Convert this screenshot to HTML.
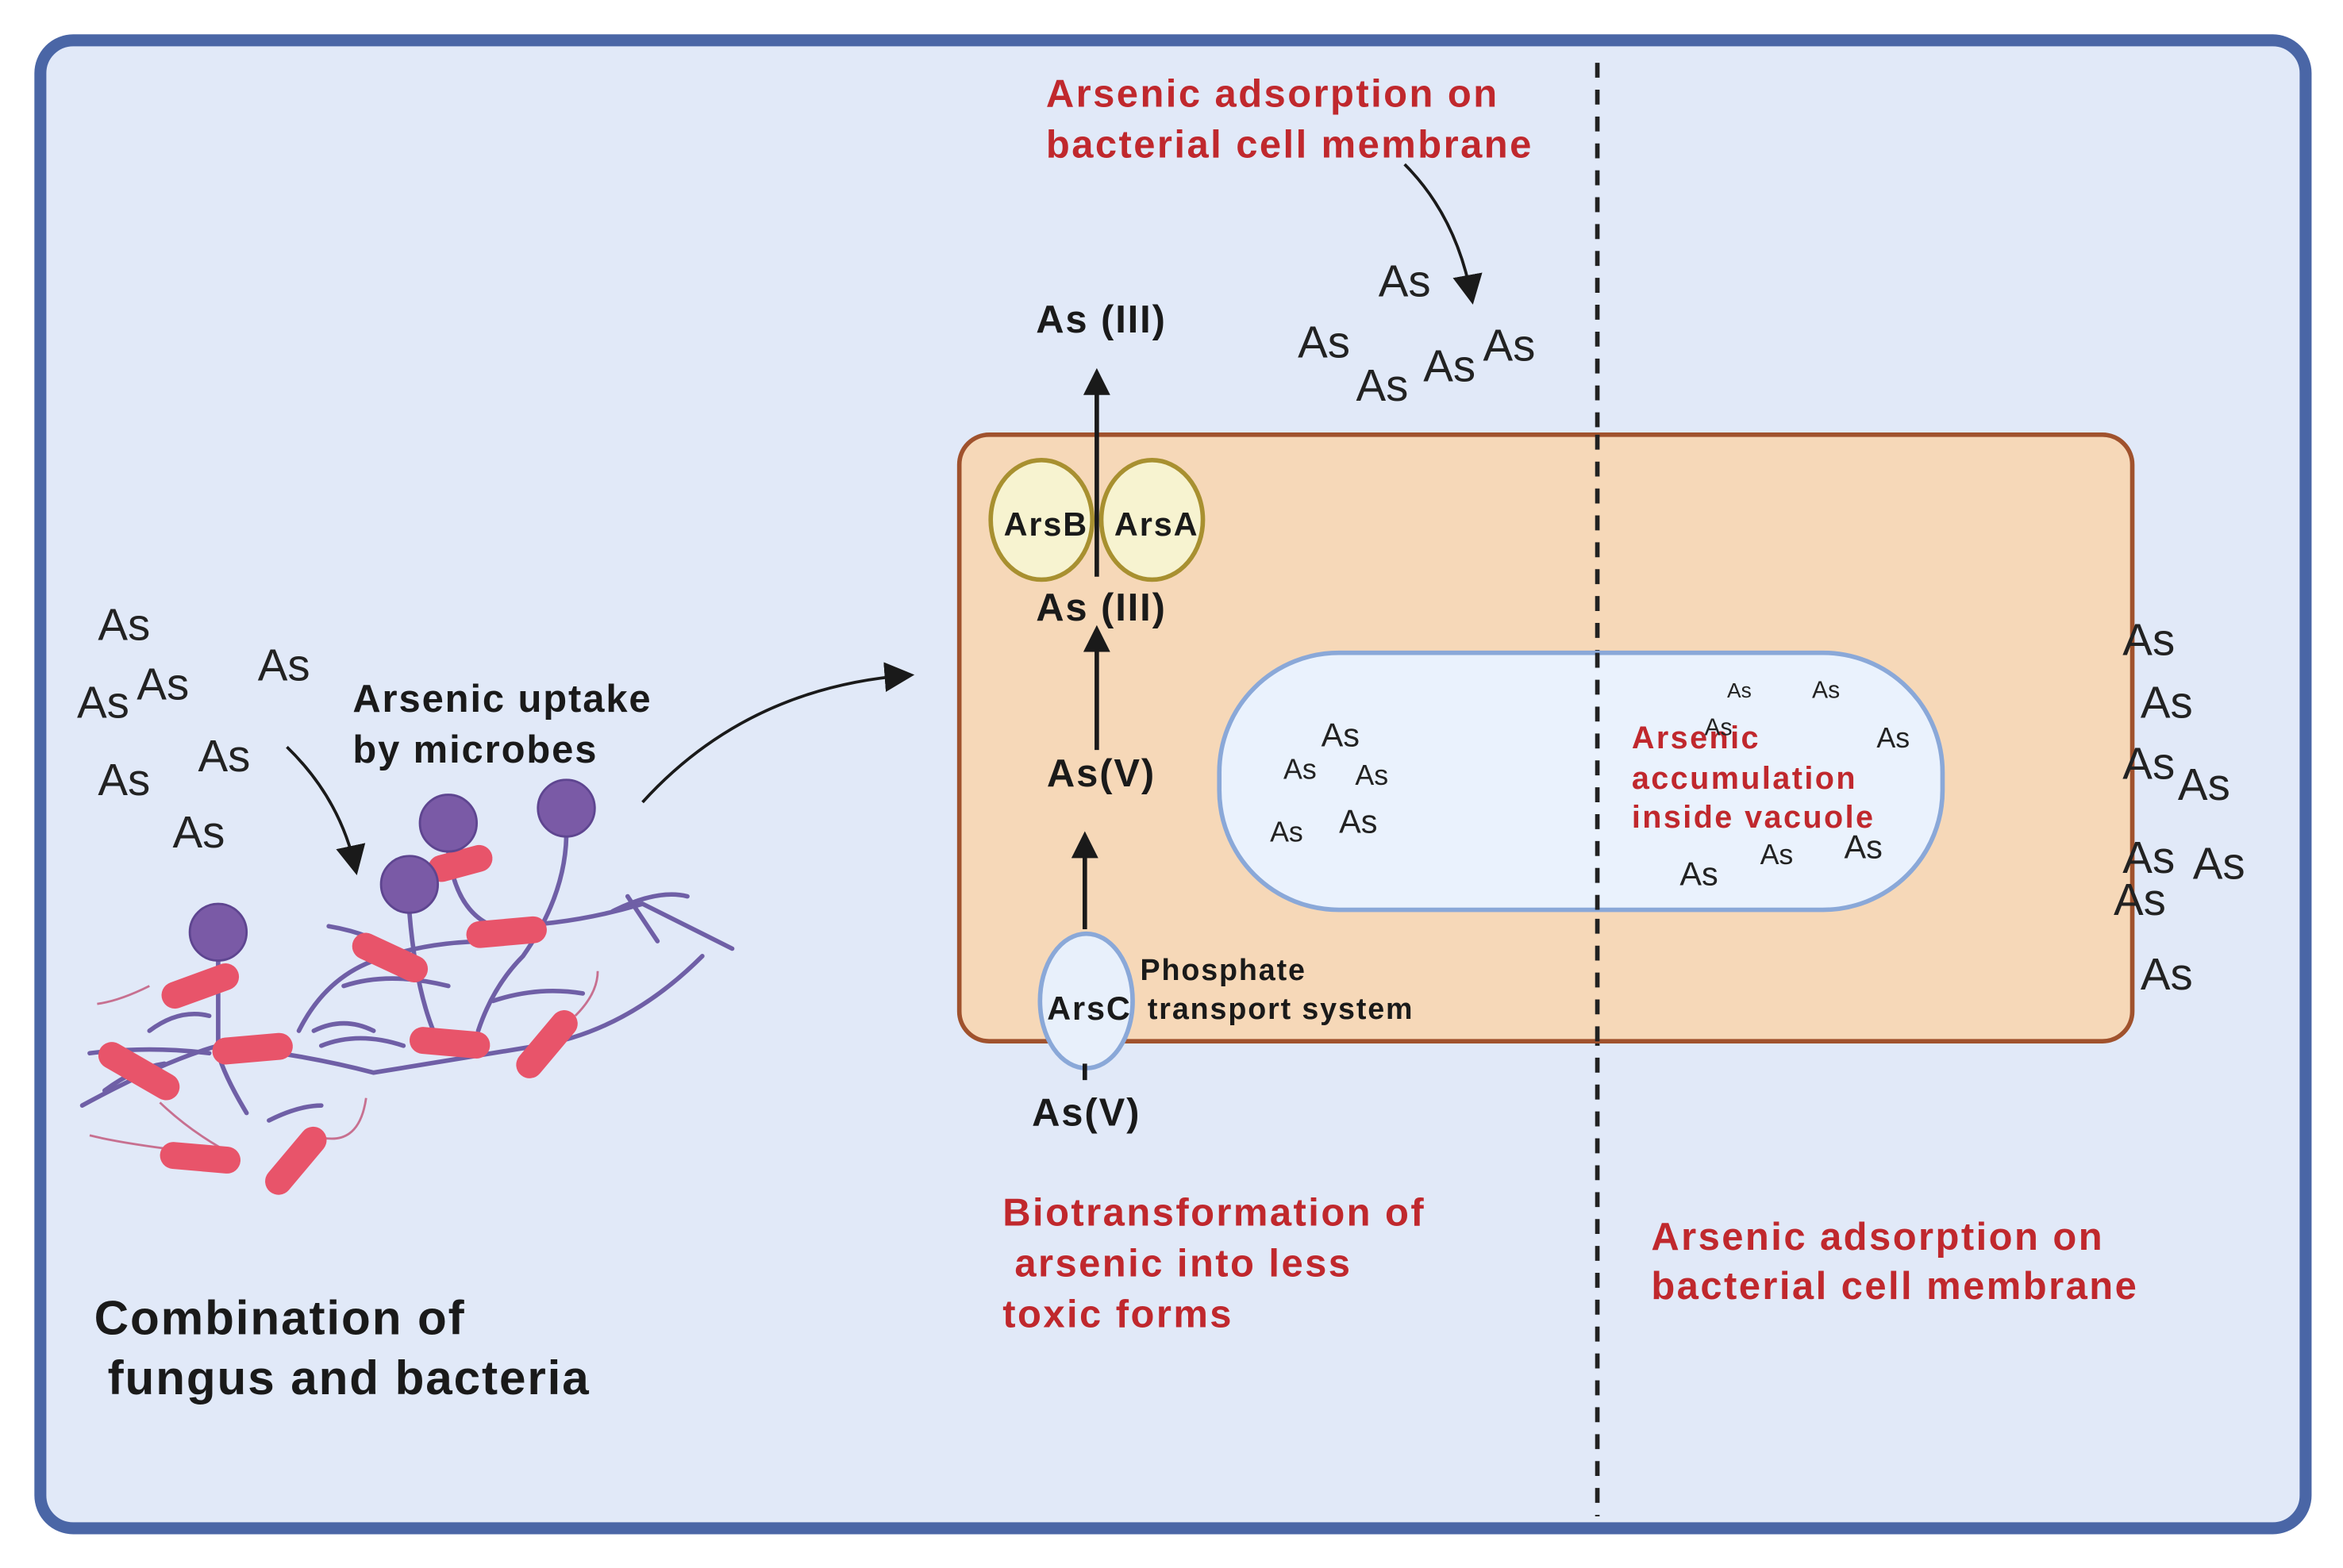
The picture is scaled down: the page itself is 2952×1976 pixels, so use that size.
<!DOCTYPE html>
<html><head><meta charset="utf-8"><style>
html,body{margin:0;padding:0;background:#fff;}
svg{display:block;}
text{font-family:"Liberation Sans",sans-serif;}
.as{font-size:30px;fill:#222;}
.b{font-weight:bold;fill:#1a1a1a;letter-spacing:1px;}
.r{font-weight:bold;fill:#c0282d;letter-spacing:1.3px;}
</style></head><body>
<svg width="2952" height="1976" viewBox="0 0 1568 1049.6" xmlns="http://www.w3.org/2000/svg">
<defs>
<marker id="ah" viewBox="0 0 10 10" refX="8" refY="5" markerWidth="6" markerHeight="6" orient="auto-start-reverse"><path d="M0,0 L10,5 L0,10 z" fill="#1a1a1a"/></marker>
<marker id="ah2" viewBox="0 0 10 10" refX="8" refY="5" markerWidth="10" markerHeight="10" orient="auto-start-reverse"><path d="M0,0 L10,5 L0,10 z" fill="#1a1a1a"/></marker>
</defs>
<rect x="0" y="0" width="1568" height="1050" fill="#fff"/>
<rect x="27" y="27" width="1516" height="996" rx="22" fill="#e1e9f8" stroke="#4a66a6" stroke-width="8"/>
<line x1="1069" y1="42" x2="1069" y2="1015" stroke="#222" stroke-width="3" stroke-dasharray="10,8"/>

<rect x="642" y="291" width="785" height="406" rx="20" fill="#f6d8b8" stroke="#a0522d" stroke-width="3"/>
<line x1="1069" y1="291" x2="1069" y2="697" stroke="#222" stroke-width="3" stroke-dasharray="10,8"/>
<rect x="816" y="437" width="484" height="172" rx="80" fill="#eaf2fd" stroke="#8aa8d8" stroke-width="3"/>
<line x1="1069" y1="437" x2="1069" y2="609" stroke="#222" stroke-width="3" stroke-dasharray="10,8"/>

<ellipse cx="697" cy="348" rx="34" ry="40" fill="#f7f3d0" stroke="#a89030" stroke-width="3"/>
<ellipse cx="771" cy="348" rx="34" ry="40" fill="#f7f3d0" stroke="#a89030" stroke-width="3"/>
<text x="700" y="351" class="b" font-size="22" text-anchor="middle" dominant-baseline="central">ArsB</text>
<text x="774" y="351" class="b" font-size="22" text-anchor="middle" dominant-baseline="central">ArsA</text>
<line x1="734" y1="386" x2="734" y2="250" stroke="#1a1a1a" stroke-width="3" marker-end="url(#ah)"/>
<line x1="734" y1="502" x2="734" y2="422" stroke="#1a1a1a" stroke-width="3" marker-end="url(#ah)"/>
<line x1="726" y1="622" x2="726" y2="560" stroke="#1a1a1a" stroke-width="3" marker-end="url(#ah)"/>
<ellipse cx="727" cy="670" rx="31" ry="45" fill="#e8f0fb" stroke="#8aa8d8" stroke-width="3"/>
<text x="729" y="675" class="b" font-size="22" text-anchor="middle" dominant-baseline="central">ArsC</text>
<line x1="726" y1="712" x2="726" y2="723" stroke="#1a1a1a" stroke-width="3"/>

<text x="737" y="214" class="b" font-size="26" text-anchor="middle" dominant-baseline="central">As (III)</text>
<text x="737" y="407" class="b" font-size="26" text-anchor="middle" dominant-baseline="central">As (III)</text>
<text x="737" y="518" class="b" font-size="26" text-anchor="middle" dominant-baseline="central">As(V)</text>
<text x="727" y="745" class="b" font-size="26" text-anchor="middle" dominant-baseline="central">As(V)</text>
<text x="763" y="649" class="b" font-size="20" dominant-baseline="central">Phosphate</text>
<text x="768" y="675" class="b" font-size="20" dominant-baseline="central">transport system</text>

<text x="700" y="63" class="r" font-size="26" dominant-baseline="central">Arsenic adsorption on</text>
<text x="700" y="97" class="r" font-size="26" dominant-baseline="central">bacterial cell membrane</text>
<text x="671" y="812" class="r" font-size="26" dominant-baseline="central">Biotransformation of</text>
<text x="679" y="846" class="r" font-size="26" dominant-baseline="central">arsenic into less</text>
<text x="671" y="880" class="r" font-size="26" dominant-baseline="central">toxic forms</text>
<text x="1105" y="828" class="r" font-size="26" dominant-baseline="central">Arsenic adsorption on</text>
<text x="1105" y="861" class="r" font-size="26" dominant-baseline="central">bacterial cell membrane</text>
<text x="1092" y="494" class="r" font-size="21" dominant-baseline="central">Arsenic</text>
<text x="1092" y="521" class="r" font-size="21" dominant-baseline="central">accumulation</text>
<text x="1092" y="547" class="r" font-size="21" dominant-baseline="central">inside vacuole</text>

<text x="236" y="468" class="b" font-size="26" dominant-baseline="central">Arsenic uptake</text>
<text x="236" y="502" class="b" font-size="26" dominant-baseline="central">by microbes</text>
<text x="63" y="882" class="b" font-size="32" dominant-baseline="central">Combination of</text>
<text x="72" y="922" class="b" font-size="32" dominant-baseline="central">fungus and bacteria</text>

<path d="M940,110 Q975,145 985,200" fill="none" stroke="#1a1a1a" stroke-width="2" marker-end="url(#ah2)"/>
<path d="M430,537 Q500,460 608,452" fill="none" stroke="#1a1a1a" stroke-width="2" marker-end="url(#ah2)"/>
<path d="M192,500 Q228,535 238,582" fill="none" stroke="#1a1a1a" stroke-width="2" marker-end="url(#ah2)"/>

<g class="as" text-anchor="middle" dominant-baseline="central">
<text x="83" y="418">As</text><text x="69" y="470">As</text><text x="109" y="458">As</text>
<text x="190" y="445">As</text><text x="83" y="522">As</text><text x="150" y="506">As</text><text x="133" y="557">As</text>
<text x="940" y="188">As</text><text x="886" y="229">As</text><text x="925" y="258">As</text><text x="970" y="245">As</text><text x="1010" y="231">As</text>
<text x="1438" y="428">As</text><text x="1450" y="470">As</text><text x="1438" y="511">As</text><text x="1475" y="525">As</text>
<text x="1438" y="574">As</text><text x="1485" y="578">As</text><text x="1432" y="602">As</text><text x="1450" y="652">As</text>
<text x="897" y="492" font-size="22">As</text><text x="870" y="515" font-size="19">As</text><text x="918" y="519" font-size="19">As</text>
<text x="861" y="557" font-size="19">As</text><text x="909" y="550" font-size="22">As</text>
<text x="1164" y="462" font-size="14">As</text><text x="1222" y="462" font-size="16">As</text><text x="1150" y="487" font-size="16">As</text>
<text x="1267" y="494" font-size="19">As</text><text x="1137" y="585" font-size="22">As</text><text x="1189" y="572" font-size="19">As</text><text x="1247" y="567" font-size="22">As</text>
</g>

<g fill="none" stroke="#6f5fa6" stroke-width="3" stroke-linecap="round">
<path d="M55,740 Q110,710 146,700 Q200,705 250,718 Q300,710 360,700 Q420,690 470,640"/>
<path d="M60,705 Q100,700 140,705 M146,642 L146,705 Q150,720 165,745"/>
<path d="M70,730 Q90,715 110,712 M200,690 Q220,650 260,640 Q290,630 330,630"/>
<path d="M274,611 Q278,660 290,690 M300,570 Q305,610 330,620 Q380,620 430,605 L490,635"/>
<path d="M379,560 Q378,600 350,640 Q330,660 320,690 M410,610 Q440,595 460,600 M420,600 L440,630"/>
<path d="M220,620 Q250,625 270,640 M230,660 Q260,650 300,660 M330,670 Q360,660 390,665"/>
<path d="M180,750 Q200,740 215,740 M250,690 Q230,680 210,690"/>
<path d="M215,700 Q240,690 270,700 M100,690 Q120,675 140,680"/>
</g>
<g fill="none" stroke="#c77090" stroke-width="1.5">
<path d="M107,738 Q130,760 160,775"/><path d="M100,660 Q80,670 65,672"/>
<path d="M120,770 Q80,765 60,760"/><path d="M210,760 Q240,770 245,735"/>
<path d="M385,680 Q400,665 400,650"/>
</g>
<g fill="#e8546a">
<rect x="-27" y="-9" width="54" height="18" rx="9" transform="translate(134,660) rotate(-20)"/>
<rect x="-30" y="-9" width="60" height="18" rx="9" transform="translate(93,717) rotate(30)"/>
<rect x="-27" y="-9" width="54" height="18" rx="9" transform="translate(169,702) rotate(-5)"/>
<rect x="-27" y="-9" width="54" height="18" rx="9" transform="translate(261,641) rotate(25)"/>
<rect x="-22" y="-9" width="44" height="18" rx="9" transform="translate(308,578) rotate(-15)"/>
<rect x="-27" y="-9" width="54" height="18" rx="9" transform="translate(339,624) rotate(-5)"/>
<rect x="-27" y="-9" width="54" height="18" rx="9" transform="translate(301,698) rotate(5)"/>
<rect x="-27" y="-9" width="54" height="18" rx="9" transform="translate(366,699) rotate(-50)"/>
<rect x="-27" y="-9" width="54" height="18" rx="9" transform="translate(134,775) rotate(5)"/>
<rect x="-27" y="-9" width="54" height="18" rx="9" transform="translate(198,777) rotate(-50)"/>
</g>
<g fill="#7a5aa6" stroke="#5e4590" stroke-width="1.5">
<circle cx="146" cy="624" r="19"/><circle cx="274" cy="592" r="19"/>
<circle cx="300" cy="551" r="19"/><circle cx="379" cy="541" r="19"/>
</g>
</svg>
</body></html>
